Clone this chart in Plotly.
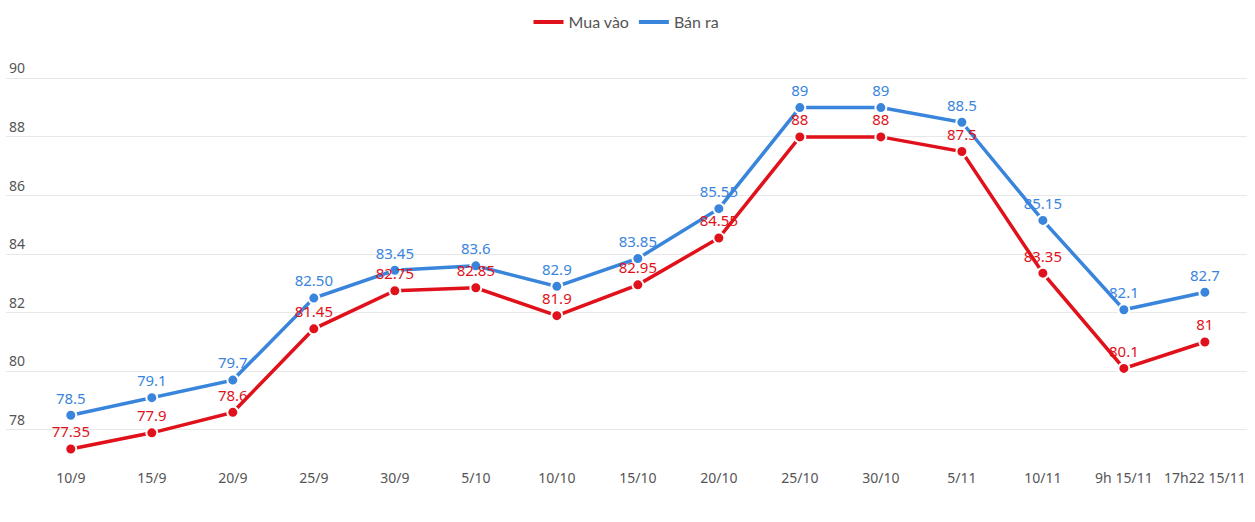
import plotly.graph_objects as go

# Dates on the x axis
dates = ["10/9", "15/9", "20/9", "25/9", "30/9", "5/10", "10/10", "15/10",
         "20/10", "25/10", "30/10", "5/11", "10/11", "9h 15/11", "17h22 15/11"]

# Buy price (Mua vào) and sell price (Bán ra)
mua_vao = [77.35, 77.9, 78.6, 81.45, 82.75, 82.85, 81.9, 82.95, 84.55, 88, 88, 87.5, 83.35, 80.1, 81]
ban_ra = [78.5, 79.1, 79.7, 82.50, 83.45, 83.6, 82.9, 83.85, 85.55, 89, 89, 88.5, 85.15, 82.1, 82.7]

# Labels as printed on the chart
mua_vao_text = ["77.35", "77.9", "78.6", "81.45", "82.75", "82.85", "81.9", "82.95",
                "84.55", "88", "88", "87.5", "83.35", "80.1", "81"]
ban_ra_text = ["78.5", "79.1", "79.7", "82.50", "83.45", "83.6", "82.9", "83.85",
               "85.55", "89", "89", "88.5", "85.15", "82.1", "82.7"]

RED = "#e0111a"
BLUE = "#3a85dc"
FONT = "Noto Sans"

fig = go.Figure()

# blue first so the red labels sit on top
for name, vals, txt, col in [("Bán ra", ban_ra, ban_ra_text, BLUE),
                             ("Mua vào", mua_vao, mua_vao_text, RED)]:
    fig.add_trace(go.Scatter(
        x=dates, y=vals, text=txt, name=name,
        mode="lines+markers+text", textposition="top center",
        textfont=dict(family=FONT, size=15, color=col),
        line=dict(color=col, width=3.5),
        marker=dict(size=11, color=col, line=dict(color="white", width=2)),
        showlegend=False, cliponaxis=False,
    ))

# legend entries drawn as plain lines
for name, col in [("Mua vào", RED), ("Bán ra", BLUE)]:
    fig.add_trace(go.Scatter(x=[None], y=[None], mode="lines", name=name,
                             line=dict(color=col, width=4)))

fig.update_layout(
    width=1255, height=522,
    margin=dict(l=6, r=8, t=49, b=54, autoexpand=False),
    plot_bgcolor="white", paper_bgcolor="white",
    font=dict(family=FONT, size=14, color="#555"),
    legend=dict(orientation="h", x=0.5, xanchor="center", y=0.99, yanchor="top",
                yref="container", font=dict(family="Lato", size=16, color="#555"),
                itemwidth=30, tracegroupgap=20),
    xaxis=dict(type="category", range=[-0.8, 14.52], showgrid=False,
               showline=False, zeroline=False, ticks="", automargin=False,
               tickfont=dict(family=FONT, size=14, color="#555")),
    yaxis=dict(range=[76.7, 91], tickvals=[78, 80, 82, 84, 86, 88, 90],
               ticklabelposition="inside top", showgrid=True, gridcolor="#e8e8e8",
               gridwidth=1, zeroline=False, showline=False, automargin=False,
               tickfont=dict(family=FONT, size=14, color="#555")),
)

# page has a default body margin; drop it so the figure sits at 0,0
fig.write_html("out.html", config={"displayModeBar": False},
               post_script="document.body.style.margin='0';document.body.style.overflow='hidden';")
